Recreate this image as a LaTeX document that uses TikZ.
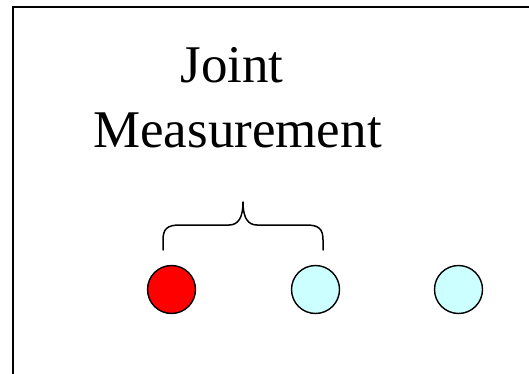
\documentclass[tikz,border=0pt]{standalone}
\usepackage{fontspec}
\setmainfont{Liberation Serif}
\definecolor{qred}{HTML}{FF0000}
\definecolor{qcyan}{HTML}{CCFFFF}
\begin{document}
\begin{tikzpicture}[x=1pt,y=-1pt,
  qubit/.style={circle,draw=black,line width=1.4pt,minimum size=48pt,inner sep=0pt},
  label/.style={font=\fontsize{53}{64}\selectfont,anchor=base,inner sep=0pt},
  frame/.style={draw=black,line width=2pt},
  bracepath/.style={draw=black,line width=1.5pt,line cap=round,line join=round}]
\useasboundingbox (0,0) rectangle (529,374);
\clip (0,0) rectangle (529,374);
\fill[white] (0,0) rectangle (529,374);
\draw[frame] (13,7) rectangle (560,400);
\node[label] (joint) at (232,83) {Joint};
\node[label] (meas) at (237.5,147) {Measurement};
\draw[bracepath] (163,250) -- (163,240) .. controls (163,229) and (167,225) .. (180,225)
  -- (229,225) .. controls (238,225) and (243,218) .. (243,202)
  .. controls (243,218) and (248,225) .. (257,225) -- (306,225)
  .. controls (319,225) and (323,229) .. (323,240) -- (323,250);
\node[qubit,fill=qred] (q1) at (171.5,289.5) {};
\node[qubit,fill=qcyan] (q2) at (315.5,289.5) {};
\node[qubit,fill=qcyan] (q3) at (458.5,289.5) {};
\end{tikzpicture}
\end{document}
